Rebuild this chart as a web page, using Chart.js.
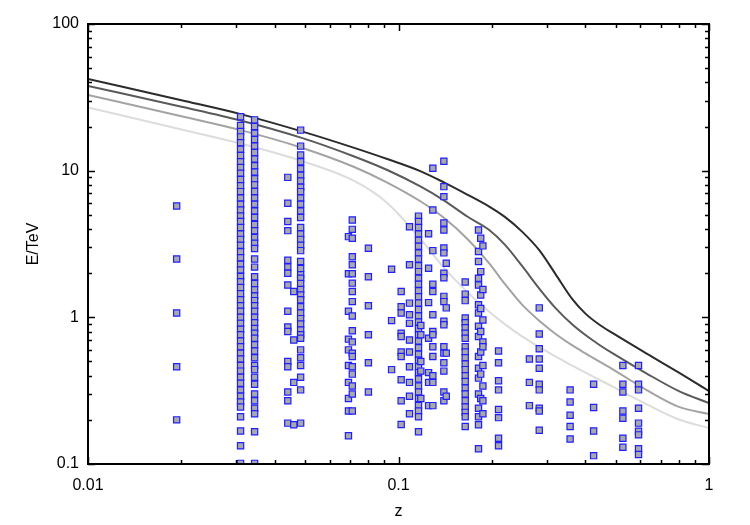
<!DOCTYPE html>
<html>
<head>
<meta charset="utf-8">
<script src="https://cdn.jsdelivr.net/npm/chart.js@4"></script>
<style>
  html, body { margin: 0; padding: 0; background: #fff; }
  canvas { display: block; }
</style>
</head>
<body>
<canvas id="chart" width="750" height="525"></canvas>
<script>
// redshift of each column of sources
const zCol = [0.0193, 0.031, 0.0344, 0.044, 0.046, 0.0484, 0.069, 0.071, 0.080, 0.095,
              0.102, 0.1085, 0.116, 0.118, 0.125, 0.129, 0.14, 0.1425, 0.164, 0.181,
              0.184, 0.187, 0.21, 0.264, 0.284, 0.357, 0.425, 0.528, 0.593];

// photon energies (TeV) in each column, same order as zCol
const eCol = [
  [5.75, 2.5, 1.07, 0.46, 0.2],
  [23.3, 20.3, 18.5, 17, 15.5, 14, 12.7, 11.5, 10.5, 9.6, 8.7, 7.9, 7.2, 6.5, 5.9, 5.4, 4.9, 4.5, 4.1,
   3.7, 3.4, 3.1, 2.8, 2.55, 2.3, 2.1, 1.9, 1.75, 1.6, 1.45, 1.32, 1.2, 1.1, 1.0, 0.91, 0.83, 0.76,
   0.69, 0.63, 0.57, 0.52, 0.47, 0.43, 0.39, 0.355, 0.32, 0.29, 0.265, 0.245, 0.21, 0.168, 0.133, 0.101],
  [22.2, 20, 18, 16.3, 14.7, 13.3, 12, 10.8, 9.8, 8.8, 8, 7.2, 6.5, 5.9, 5.3, 4.8, 4.3, 3.9, 3.5, 3.2,
   2.95, 2.5, 2.2, 1.89, 1.7, 1.54, 1.4, 1.3, 1.2, 1.1, 1.0, 0.92, 0.84, 0.78, 0.72, 0.65, 0.59, 0.53,
   0.47, 0.44, 0.39, 0.35, 0.30, 0.27, 0.24, 0.22, 0.166, 0.101],
  [9.0, 6.0, 4.5, 3.9, 2.45, 2.2, 2.0, 1.66, 1.1, 0.86, 0.8, 0.5, 0.46, 0.31, 0.27, 0.19],
  [1.5, 0.7, 0.36, 0.185],
  [18.9, 14.7, 12.8, 11.5, 10.3, 9.3, 8.5, 7.7, 7.2, 6.5, 5.9, 5.3, 4.8, 4.1, 3.7, 3.4, 3.1, 2.85, 2.4,
   2.15, 1.95, 1.85, 1.7, 1.55, 1.42, 1.32, 1.18, 1.07, 0.98, 0.9, 0.82, 0.76, 0.72, 0.6, 0.53, 0.47,
   0.39, 0.32, 0.19],
  [3.55, 1.98, 1.1, 0.71, 0.6, 0.47, 0.36, 0.28, 0.23, 0.156],
  [4.61, 3.98, 3.46, 2.59, 2.28, 1.98, 1.71, 1.5, 1.28, 1.02, 0.81, 0.68, 0.57, 0.54, 0.46, 0.41, 0.34, 0.30, 0.23],
  [2.96, 1.89, 1.2, 0.76, 0.49, 0.31],
  [2.13, 0.95, 0.44],
  [1.5, 1.18, 1.07, 0.78, 0.74, 0.58, 0.54, 0.375, 0.27, 0.186],
  [4.15, 2.28, 1.25, 1.04, 0.91, 0.7, 0.58, 0.46, 0.36, 0.29, 0.22],
  [4.9, 4.5, 4.1, 3.7, 3.35, 3.05, 2.75, 2.5, 2.25, 2.05, 1.85, 1.68, 1.52, 1.38, 1.25, 1.13, 1.02, 0.93,
   0.84, 0.76, 0.69, 0.62, 0.56, 0.51, 0.46, 0.42, 0.38, 0.34, 0.31, 0.28, 0.25, 0.23, 0.21, 0.166],
  [0.88, 0.76, 0.5, 0.43, 0.28],
  [3.71, 2.16, 1.26, 0.72, 0.42, 0.36, 0.25],
  [10.4, 5.4, 2.85, 1.68, 1.5, 1.04, 0.80, 0.76, 0.63, 0.54, 0.40, 0.36, 0.25],
  [11.6, 7.78, 6.65, 4.4, 3.94, 2.97, 2.75, 2.0, 1.86, 1.39, 1.28, 0.94, 0.89, 0.63, 0.57, 0.49, 0.43, 0.31, 0.27],
  [2.34, 1.16, 0.57, 0.29],
  [1.74, 1.44, 1.30, 0.99, 0.92, 0.85, 0.78, 0.72, 0.63, 0.58, 0.53, 0.48, 0.44, 0.40, 0.365, 0.33,
   0.30, 0.27, 0.245, 0.225, 0.21, 0.18],
  [3.94, 2.81, 2.40, 1.85, 1.66, 1.22, 1.07, 0.87, 0.74, 0.54, 0.45, 0.385, 0.30, 0.24, 0.21, 0.185, 0.127],
  [3.46, 2.05, 1.42, 1.15, 0.80, 0.58, 0.41, 0.28],
  [3.07, 1.55, 0.96, 0.68, 0.63, 0.47, 0.34, 0.27, 0.22],
  [0.59, 0.49, 0.37, 0.32, 0.235, 0.207, 0.15, 0.133],
  [0.52, 0.36, 0.25],
  [1.16, 0.77, 0.61, 0.52, 0.45, 0.35, 0.32, 0.24, 0.23, 0.17],
  [0.32, 0.265, 0.215, 0.18, 0.148],
  [0.35, 0.243, 0.168, 0.114],
  [0.47, 0.35, 0.31, 0.23, 0.205, 0.15, 0.13],
  [0.47, 0.35, 0.32, 0.24, 0.19, 0.167, 0.158, 0.127, 0.116]
];

// horizon curves, darkest to lightest
const curveZ  = [0.01, 0.02, 0.031, 0.0485, 0.072, 0.092, 0.118, 0.14, 0.167, 0.196, 0.22,
                 0.25, 0.284, 0.32, 0.363, 0.40, 0.444, 0.49, 0.63, 0.80, 1.0];
const curve1 = [42.2, 30.2, 24.3, 18.6, 14.3, 12.0, 9.89, 8.32, 6.85, 5.69, 4.84,
                3.84, 2.87, 1.98, 1.33, 1.06, 0.89, 0.78, 0.566, 0.420, 0.314];
const curve2 = [37.8, 27.3, 22.0, 16.8, 12.5, 10.1, 7.78, 6.28, 4.85, 3.94, 3.13,
                2.24, 1.57, 1.16, 0.892, 0.757, 0.648, 0.567, 0.414, 0.314, 0.260];
const curve3 = [32.8, 23.5, 18.9, 14.4, 10.6, 8.30, 6.16, 4.77, 3.41, 2.33, 1.69,
                1.22, 0.948, 0.773, 0.643, 0.567, 0.498, 0.442, 0.319, 0.245, 0.219];
const curve4 = [27.0, 19.1, 15.3, 11.7, 8.51, 6.03, 3.40, 2.18, 1.48, 1.093, 0.899,
                0.741, 0.628, 0.541, 0.468, 0.420, 0.375, 0.337, 0.255, 0.201, 0.176];
const curveColors = ['#2b2b2b', '#5a5a5a', '#a3a3a3', '#dcdcdc'];

const xMajor = [0.01, 0.1, 1];
const xLabels = ['0.01', '0.1', '1'];
const yMajor = [0.1, 1, 10, 100];
const yLabels = ['0.1', '1', '10', '100'];

function logTicks(major) {
  const out = [];
  for (let i = 0; i < major.length; i++) {
    out.push(major[i]);
    if (i < major.length - 1) {
      for (let k = 2; k <= 9; k++) out.push(+(major[i] * k).toPrecision(3));
    }
  }
  return out;
}
const xTicks = logTicks(xMajor);
const yTicks = logTicks(yMajor);

const points = [];
zCol.forEach((z, i) => eCol[i].forEach(e => points.push({ x: z, y: e })));

const curves = [curve1, curve2, curve3, curve4].map((c, i) => ({
  type: 'line',
  data: curveZ.map((z, j) => ({ x: z, y: c[j] })),
  borderColor: curveColors[i],
  borderWidth: 2,
  pointRadius: 0,
  fill: false,
  cubicInterpolationMode: 'monotone',
  order: 2
}));

const frame = {
  id: 'frame',
  afterDatasetsDraw(chart) {
    const { ctx, chartArea: a, scales: { x, y } } = chart;
    ctx.save();
    ctx.strokeStyle = '#000';
    ctx.lineWidth = 1.5;
    ctx.beginPath();
    xTicks.forEach(v => {
      const px = Math.round(x.getPixelForValue(v)) + 0.5;
      const len = xMajor.includes(v) ? 7 : 4;
      ctx.moveTo(px, a.bottom); ctx.lineTo(px, a.bottom - len);
      ctx.moveTo(px, a.top); ctx.lineTo(px, a.top + len);
    });
    yTicks.forEach(v => {
      const py = Math.round(y.getPixelForValue(v)) + 0.5;
      const len = yMajor.includes(v) ? 7 : 4;
      ctx.moveTo(a.left, py); ctx.lineTo(a.left + len, py);
      ctx.moveTo(a.right, py); ctx.lineTo(a.right - len, py);
    });
    ctx.stroke();
    ctx.lineWidth = 2;
    ctx.strokeRect(a.left, a.top, a.right - a.left, a.bottom - a.top);
    ctx.restore();
  }
};

const font = { family: 'Liberation Sans, Arial, sans-serif', size: 16 };

new Chart(document.getElementById('chart'), {
  type: 'scatter',
  data: {
    datasets: [{
      data: points,
      pointStyle: 'rect',
      pointRadius: 4.4,
      pointBackgroundColor: '#a9a9a9',
      pointBorderColor: '#1f1fff',
      pointBorderWidth: 1.2,
      order: 1
    }, ...curves]
  },
  options: {
    responsive: false,
    animation: false,
    devicePixelRatio: 1,
    layout: { padding: { top: 24, right: 41, left: 0, bottom: 0 } },
    plugins: { legend: { display: false }, tooltip: { enabled: false } },
    scales: {
      x: {
        type: 'logarithmic',
        min: 0.01, max: 1,
        grid: { display: false, drawTicks: false },
        border: { display: false },
        afterBuildTicks: s => { s.ticks = xTicks.map(v => ({ value: v })); },
        afterFit: s => { s.height = 61; },
        ticks: {
          autoSkip: false, maxRotation: 0, padding: 12, color: '#000', font,
          callback: v => { const i = xMajor.indexOf(v); return i >= 0 ? xLabels[i] : ''; }
        },
        title: { display: true, text: 'z', color: '#000', font, padding: { top: 0, bottom: 4 } }
      },
      y: {
        type: 'logarithmic',
        min: 0.1, max: 100,
        grid: { display: false, drawTicks: false },
        border: { display: false },
        afterBuildTicks: s => { s.ticks = yTicks.map(v => ({ value: v })); },
        afterFit: s => { s.width = 88; },
        ticks: {
          autoSkip: false, padding: 9, color: '#000', font,
          callback: v => { const i = yMajor.indexOf(v); return i >= 0 ? yLabels[i] : ''; }
        },
        title: { display: true, text: 'E/TeV', color: '#000', font, padding: { top: 24, bottom: 0 } }
      }
    }
  },
  plugins: [frame]
});
</script>
</body>
</html>
